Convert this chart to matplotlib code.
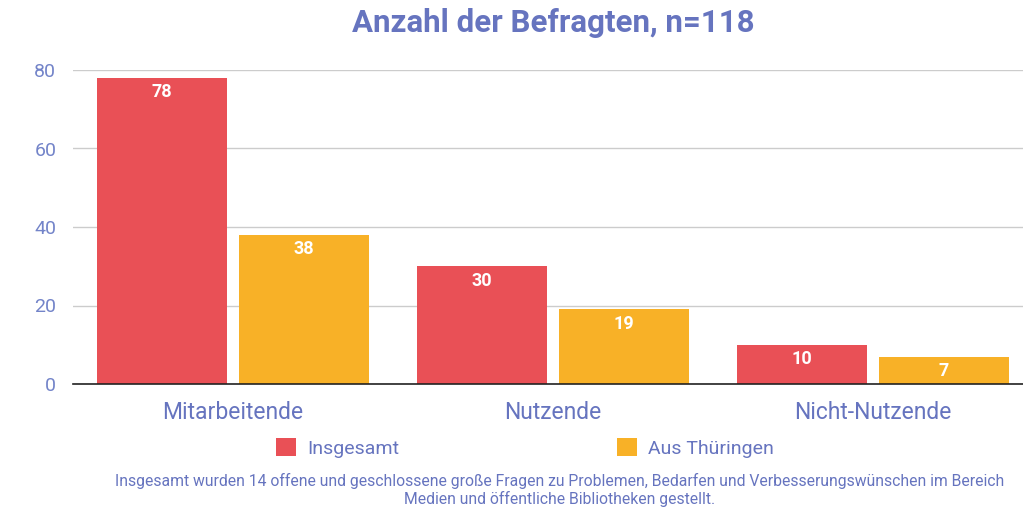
import matplotlib
matplotlib.use("Agg")
import matplotlib.pyplot as plt
import numpy as np
from matplotlib.patches import Patch

plt.rcParams["font.family"] = ["Roboto", "DejaVu Sans"]

categories = ["Mitarbeitende", "Nutzende", "Nicht-Nutzende"]
series_names = ["Insgesamt", "Aus Thüringen"]
insgesamt = [78, 30, 10]
thueringen = [38, 19, 7]
yticks = [0, 20, 40, 60, 80]

RED = "#e95056"
ORANGE = "#f8b127"
BLUE = "#6674bf"
TICK_BLUE = "#7384c9"

fig = plt.figure(figsize=(10.23, 5.08), dpi=100)
ax = fig.add_axes([73 / 1023, 124 / 508, 950 / 1023, 314 / 508])

x = np.arange(len(categories))
w = 0.406
off = 0.221
b1 = ax.bar(x - off, insgesamt, w, color=RED, zorder=3)
b2 = ax.bar(x + off, thueringen, w, color=ORANGE, zorder=3)

for bars, vals in ((b1, insgesamt), (b2, thueringen)):
    for b, v in zip(bars, vals):
        ax.text(b.get_x() + b.get_width() / 2, v - 1.4, str(v),
                ha="center", va="top", color="white",
                fontsize=13, fontweight="bold", zorder=4)

ax.set_xlim(-0.5, 2.469)
ax.set_ylim(0, 80)
ax.set_yticks(yticks)
ax.set_yticklabels([str(t) for t in yticks])
ax.set_xticks(x)
ax.set_xticklabels(categories)
ax.tick_params(axis="y", length=0, pad=12, labelsize=14, labelcolor=TICK_BLUE)
ax.tick_params(axis="x", length=0, pad=12, labelsize=16.5, labelcolor=BLUE)
ax.grid(axis="y", color="#cccccc", lw=1, zorder=0)
for s in ("top", "right", "left"):
    ax.spines[s].set_visible(False)
ax.spines["bottom"].set_color("#222222")
ax.spines["bottom"].set_linewidth(1.2)
ax.spines["bottom"].set_zorder(5)

fig.text(553 / 1023, 1 - 23 / 508, "Anzahl der Befragten, n=118",
         ha="center", va="center", fontsize=22.5, fontweight="bold", color=BLUE)

handles = [Patch(facecolor=RED, label=series_names[0]),
           Patch(facecolor=ORANGE, label=series_names[1])]
fig.legend(handles=handles, loc="center", bbox_to_anchor=(525 / 1023, 1 - 448 / 508),
           ncol=2, frameon=False, fontsize=14, labelcolor=BLUE,
           handlelength=1.05, handleheight=1.05, handletextpad=0.55,
           columnspacing=11.2)

fig.text(560 / 1023, 1 - 490 / 508,
         "Insgesamt wurden 14 offene und geschlossene große Fragen zu Problemen, "
         "Bedarfen und Verbesserungswünschen im Bereich\n"
         "Medien und öffentliche Bibliotheken gestellt.",
         ha="center", va="center", fontsize=11.3, color=BLUE,
         fontstretch="condensed", linespacing=1.1)

fig.savefig("out.png", dpi=100)
